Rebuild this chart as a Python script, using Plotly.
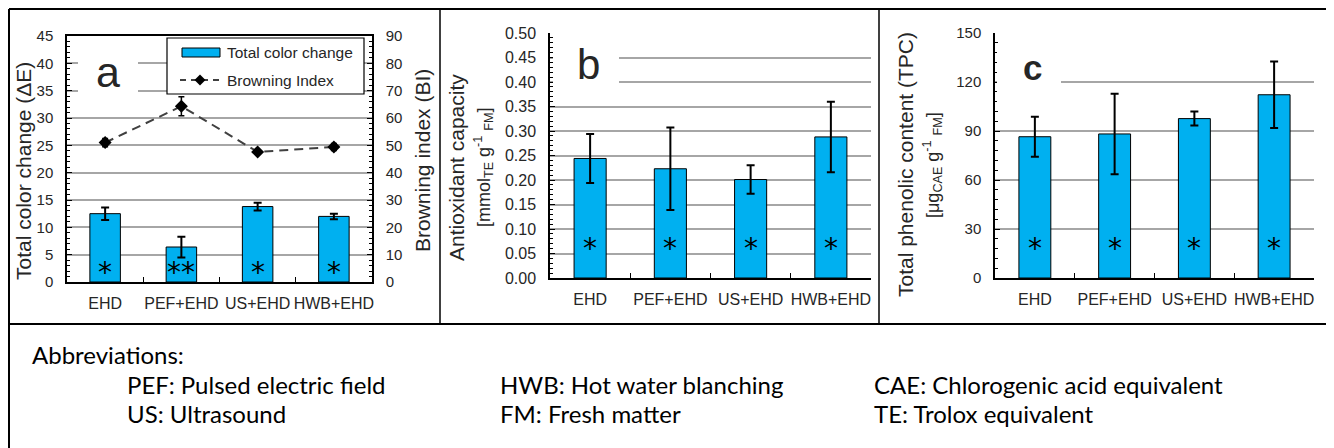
import plotly.graph_objects as go

W, H = 1334, 448
OFF = 8  # page body margin: figure is drawn 8px right/down of the window origin

# ---------------- data ----------------
categories = ["EHD", "PEF+EHD", "US+EHD", "HWB+EHD"]
delta_e = [12.5, 6.4, 13.8, 12.0]
delta_e_err = [1.15, 1.9, 0.7, 0.5]
browning = [51.0, 64.3, 47.6, 49.4]
browning_err = [1.5, 3.5, 0.6, 1.3]
antiox = [0.244, 0.223, 0.201, 0.288]
antiox_err = [0.050, 0.084, 0.029, 0.072]
tpc = [86.5, 88.2, 97.6, 112.2]
tpc_err = [12.2, 24.6, 4.3, 20.3]
sig_a = ["*", "**", "*", "*"]
sig_b = ["*", "*", "*", "*"]
sig_c = ["*", "*", "*", "*"]

abbr_col1 = ["PEF: Pulsed electric field", "US: Ultrasound"]
abbr_col2 = ["HWB: Hot water blanching", "FM: Fresh matter"]
abbr_col3 = ["CAE: Chlorogenic acid equivalent", "TE: Trolox equivalent"]

# ---------------- style ----------------
BLUE = "#00B0F0"
GRID = "#a6a6a6"
TXT = "#262626"
FONT = "Liberation Sans, Arial, sans-serif"
NOTE_FONT = "Lato, Calibri, sans-serif"


def fx(px):
    return (px - OFF) / W


def fy(py):
    return 1 - (py - OFF) / H


fig = go.Figure()

err_bar = dict(type="data", color="black", thickness=2, width=4)

# panel a
fig.add_trace(go.Bar(x=categories, y=delta_e, xaxis="x", yaxis="y",
                     marker=dict(color=BLUE, line=dict(color="black", width=1)),
                     error_y=dict(array=delta_e_err, **err_bar),
                     name="Total color change", showlegend=False))
fig.add_trace(go.Scatter(x=categories, y=browning, xaxis="x", yaxis="y2",
                         mode="lines+markers",
                         line=dict(color="#404040", width=2, dash="9px,6px"),
                         marker=dict(symbol="diamond", size=10, color="black"),
                         error_y=dict(type="data", array=browning_err, color="black",
                                      thickness=1.5, width=3),
                         name="Browning Index", showlegend=False))
# panel b
fig.add_trace(go.Bar(x=categories, y=antiox, xaxis="x2", yaxis="y3",
                     marker=dict(color=BLUE, line=dict(color="black", width=1)),
                     error_y=dict(array=antiox_err, **err_bar), showlegend=False))
# panel c
fig.add_trace(go.Bar(x=categories, y=tpc, xaxis="x3", yaxis="y4",
                     marker=dict(color=BLUE, line=dict(color="black", width=1)),
                     error_y=dict(array=tpc_err, **err_bar), showlegend=False))


def xax(dom, anchor, mirror=False):
    return dict(domain=dom, anchor=anchor, type="category", range=[-0.5, 3.5],
                showline=True, linecolor="black", linewidth=1.5, mirror=mirror,
                ticks="inside", tickson="boundaries", ticklen=5, tickcolor="black",
                tickwidth=1.2, showgrid=False, ticklabelstandoff=6, tickangle=0,
                automargin=False,
                tickfont=dict(family=FONT, size=16, color=TXT), fixedrange=True)


def yax(dom, anchor, rng, dtick, minor, size=15, fmt=None, grid=True):
    d = dict(domain=dom, anchor=anchor, range=rng, dtick=dtick, tick0=0,
             showline=True, linecolor="black", linewidth=1.5,
             ticks="inside", ticklen=5, tickcolor="black", tickwidth=1.2,
             minor=dict(dtick=minor, ticks="inside", ticklen=3, tickcolor="black",
                        tickwidth=1, showgrid=False),
             showgrid=grid, gridcolor=GRID, gridwidth=1.5, zeroline=False,
             automargin=False,
             ticklabelstandoff=9, tickfont=dict(family=FONT, size=size, color=TXT),
             fixedrange=True)
    if fmt:
        d["tickformat"] = fmt
    return d


ya_dom = [fy(282), fy(36)]
ybc_dom = [fy(278), fy(33)]

fig.update_layout(
    width=W, height=H, autosize=False,
    margin=dict(l=0, r=0, t=0, b=0, pad=0, autoexpand=False),
    paper_bgcolor="white", plot_bgcolor="white",
    bargap=0.6, showlegend=False,
    font=dict(family=FONT, color=TXT),
    xaxis=xax([fx(67), fx(372)], "y", mirror=True),
    yaxis=yax(ya_dom, "x", [0, 45], 5, 1),
    yaxis2=dict(domain=ya_dom, anchor="x", overlaying="y", side="right",
                range=[0, 90], dtick=10, tick0=0, showline=True, linecolor="black",
                linewidth=1.5, ticks="inside", ticklen=5, tickcolor="black",
                tickwidth=1.2, automargin=False,
                minor=dict(dtick=2, ticks="inside", ticklen=3, tickcolor="black",
                           tickwidth=1, showgrid=False),
                showgrid=False, zeroline=False, ticklabelstandoff=9,
                tickfont=dict(family=FONT, size=15, color=TXT), fixedrange=True),
    xaxis2=xax([fx(550), fx(871)], "y3"),
    yaxis3=yax(ybc_dom, "x2", [0, 0.5001], 0.05, 0.01, size=16, fmt=".2f"),
    xaxis3=xax([fx(995), fx(1314)], "y4"),
    yaxis4=yax(ybc_dom, "x3", [0, 150.01], 30, 6),
)

shapes = []
anns = []


def pline(x0, y0, x1, y1, width=2, color="black", dash=None):
    ln = dict(color=color, width=width)
    if dash:
        ln["dash"] = dash
    shapes.append(dict(type="line", xref="paper", yref="paper",
                       x0=fx(x0), y0=fy(y0), x1=fx(x1), y1=fy(y1), line=ln,
                       layer="above"))


def prect(x0, y0, x1, y1, fill="white", lw=0, lc="black"):
    shapes.append(dict(type="rect", xref="paper", yref="paper",
                       x0=fx(x0), y0=fy(y0), x1=fx(x1), y1=fy(y1),
                       fillcolor=fill, line=dict(width=lw, color=lc), layer="above"))


def ptext(text, x, y, size, xanchor="center", angle=0, family=FONT, color=TXT, bold=False):
    if bold:
        text = "<b>" + text + "</b>"
    anns.append(dict(text=text, xref="paper", yref="paper", x=fx(x), y=fy(y),
                     xanchor=xanchor, yanchor="middle", showarrow=False,
                     textangle=angle, font=dict(family=family, size=size, color=color)))


# outer frame (the leftmost / topmost pixel of the figure is at window 8px)
pline(9, 9, W + OFF, 9)
pline(9, 9, 9, H + OFF)
pline(9, 324, W + OFF, 324)
pline(440, 9, 440, 324, width=1.5)
pline(879, 9, 879, 324, width=1.5)

# white label boxes covering gridlines
prect(78, 45, 138, 102)
prect(553, 42, 619, 96)
prect(997, 45, 1061, 108)

# panel letters
ptext("a", 108, 72, 43)
ptext("b", 588, 64, 42)
ptext("c", 1032, 68, 35, bold=True)

# manual legend panel a
prect(167, 38, 364, 94, fill="white", lw=1.2)
prect(182, 48, 220, 57, fill=BLUE, lw=1)
ptext("Total color change", 225, 52.5, 15.5, xanchor="left")
pline(180, 80, 220, 80, width=2, color="#404040", dash="6px,5px")
shapes.append(dict(type="path", xref="paper", yref="paper",
                   path="M{},{} L{},{} L{},{} L{},{} Z".format(
                       fx(200), fy(74.5), fx(205.5), fy(80), fx(200), fy(85.5), fx(194.5), fy(80)),
                   fillcolor="black", line=dict(width=0), layer="above"))
ptext("Browning Index", 225, 80, 15.5, xanchor="left")

# axis titles
ptext("Total color change (ΔE)", 23, 171, 21, angle=-90)
ptext("Browning index (BI)", 422, 161, 21, angle=-90)
ptext("Antioxidant capacity", 456, 168, 21, angle=-90)
ptext("[mmol<sub>TE</sub> g<sup>-1</sup> <sub>FM</sub>]", 483, 167, 18, angle=-90)
ptext("Total phenolic content (TPC)", 905, 165, 21, angle=-90)
ptext("[μg<sub>CAE</sub> g<sup>-1</sup> <sub>FM</sub>]", 932, 165, 18, angle=-90)

# significance asterisks
for xr, yr, sig, ypos in (("x", "y", sig_a, 2.7), ("x2", "y3", sig_b, 0.071),
                          ("x3", "y4", sig_c, 21.4)):
    for c, s in zip(categories, sig):
        anns.append(dict(text=s, xref=xr, yref=yr, x=c, y=ypos, xanchor="center",
                         yanchor="middle", yshift=-5, showarrow=False,
                         font=dict(family="DejaVu Sans", size=28, color="black")))

# abbreviations
ptext("Abbreviations:", 30, 354, 24, xanchor="left", family=NOTE_FONT, color="black")
for col, xpos in ((abbr_col1, 125), (abbr_col2, 498), (abbr_col3, 872)):
    for i, t in enumerate(col):
        ptext(t, xpos, 384 + 29 * i, 24, xanchor="left", family=NOTE_FONT, color="black")

fig.update_layout(shapes=shapes, annotations=anns)
fig.write_html("out.html")
